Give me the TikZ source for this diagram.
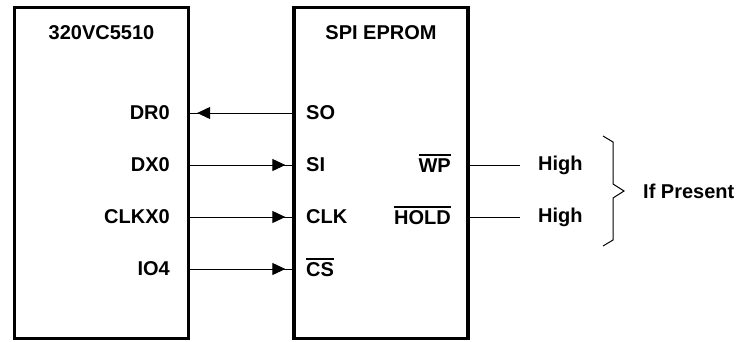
\documentclass[tikz,border=0pt]{standalone}
\usepackage{fontspec}
\setmainfont{Liberation Sans}
\usetikzlibrary{arrows.meta}
\tikzset{
  box/.style={draw, line width=3.3pt, inner sep=0pt},
  lbl/.style={font=\fontsize{20}{20}\selectfont\bfseries, inner sep=0pt},
  wire/.style={line width=1pt},
  sig/.style={wire, -{Triangle[length=13pt,width=12pt]}, shorten >=7pt},
}
\newcommand{\ovl}[1]{\leavevmode\vbox{\hrule height 2pt\kern 2pt\hbox{#1}}}
\begin{document}
\begin{tikzpicture}[x=1pt,y=-1pt]
\useasboundingbox (0,0) rectangle (741,341);
% boxes
\node[box, minimum width=174pt, minimum height=331pt] (dsp) at (101.5,173) {};
\node[box, minimum width=174pt, minimum height=331pt] (rom) at (381,173) {};
\node[lbl] (dsptitle) at (101.5,33) {320VC5510};
\node[lbl] (romtitle) at (381,33) {SPI EPROM};
% left labels
\node[lbl, anchor=east] (dr0) at (170,113) {DR0};
\node[lbl, anchor=east] (dx0) at (170,165) {DX0};
\node[lbl, anchor=east] (clkx0) at (170,217) {CLKX0};
\node[lbl, anchor=east] (io4) at (170,269) {IO4};
% right labels
\node[lbl, anchor=west] (so) at (306,113) {SO};
\node[lbl, anchor=west] (si) at (306,165) {SI};
\node[lbl, anchor=west] (clk) at (306,217) {CLK};
\node[lbl, anchor=base west] (cs) at (306,276) {\ovl{CS}};
\node[lbl, anchor=base east] (wp) at (451,172) {\ovl{WP}};
\node[lbl, anchor=base east] (hold) at (451,224) {\ovl{HOLD}};
% pin coordinates
\coordinate (pL1) at (dsp.east |- dr0);
\coordinate (pL2) at (dsp.east |- dx0);
\coordinate (pL3) at (dsp.east |- clkx0);
\coordinate (pL4) at (dsp.east |- io4);
\coordinate (pR1) at (rom.west |- so);
\coordinate (pR2) at (rom.west |- si);
\coordinate (pR3) at (rom.west |- clk);
\coordinate (pR4) at (rom.west |- 0,269);
\coordinate (pW) at (rom.east |- 0,165);
\coordinate (pH) at (rom.east |- 0,217);
% wires
\draw[wire] (pR1) -- (pL1);
\draw[sig] (pR1) -- (pL1);
\foreach \i in {2,3,4}{
  \draw[wire] (pL\i) -- (pR\i);
  \draw[sig] (pL\i) -- (pR\i);
}
\node[lbl, anchor=west] (high1) at (538,165) {High};
\node[lbl, anchor=west] (high2) at (538,217) {High};
\coordinate (eW) at (520,165);
\coordinate (eH) at (520,217);
\draw[wire] (pW) -- (eW);
\draw[wire] (pH) -- (eH);
% brace
\draw[wire, line join=miter] (603,136) -- (613,142) -- (613,184) -- (624,191) -- (613,198) -- (613,240) -- (603,246);
\node[lbl, anchor=west] (ifp) at (643,191) {If Present};
\end{tikzpicture}
\end{document}
